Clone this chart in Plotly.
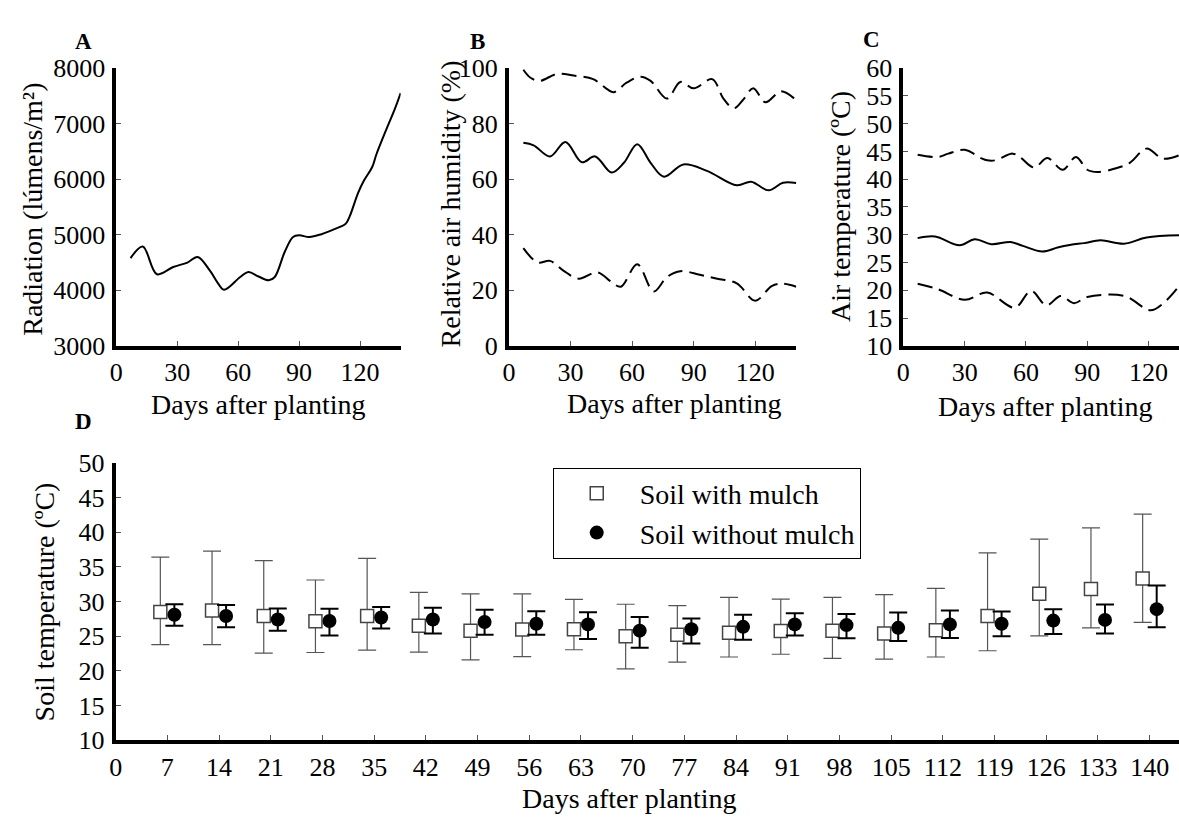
import plotly.graph_objects as go

# ---------------- data ----------------
# A: radiation
rad_days = [7, 13, 20, 28, 35, 40, 46, 50, 53, 61, 65, 70, 75, 78, 83, 87, 90, 95, 101, 108, 113, 115, 119, 122, 126, 128, 133, 137, 140]
rad_vals = [4580, 4790, 4290, 4420, 4500, 4600, 4360, 4130, 4010, 4240, 4330, 4250, 4180, 4240, 4700, 4960, 4990, 4960, 5010, 5110, 5200, 5340, 5750, 5980, 6220, 6440, 6900, 7250, 7550]

# B: relative air humidity
rh_max_days = [7, 10.5, 15, 23.5, 31.5, 41, 48, 51, 57.5, 64, 69, 77, 83.5, 90, 99, 104.5, 109.5, 114, 119, 125, 132.5, 140]
rh_max_vals = [99.4, 96.5, 95.4, 97.9, 97.3, 96.0, 92.3, 91.3, 94.8, 96.9, 95.4, 89.0, 95.0, 92.7, 96.0, 89.0, 85.5, 88.5, 92.7, 87.7, 91.6, 88.4]
rh_mean_days = [7, 12, 20, 27.5, 35.5, 42, 50, 56, 62.5, 69, 75.5, 85, 96.5, 111, 118, 126.5, 133.5, 140]
rh_mean_vals = [73.1, 72.2, 68.2, 73.4, 66.1, 68.2, 62.4, 65.9, 72.6, 65.9, 60.9, 65.3, 63.0, 57.8, 59.1, 56.0, 58.7, 58.6]
rh_min_days = [7, 14, 20, 26.5, 34, 43, 50, 54.5, 62.5, 70.5, 77, 83.5, 93, 101.5, 111, 120, 128, 133, 140]
rh_min_vals = [35.2, 30.0, 30.6, 27.1, 24.2, 26.5, 23.0, 21.3, 29.4, 19.6, 24.8, 26.9, 25.6, 24.2, 22.5, 16.3, 21.5, 22.4, 21.3]

# C: air temperature
t_max_days = [7, 17, 22, 30, 38, 41, 45, 53.5, 57, 64, 70.5, 78, 84.5, 90, 95, 104.5, 111, 119, 127, 135]
t_max_vals = [44.4, 44.0, 44.6, 45.3, 43.8, 43.4, 43.4, 44.6, 44.0, 42.1, 43.8, 41.7, 44.0, 41.7, 41.3, 42.0, 43.0, 45.5, 43.7, 44.3]
t_mean_days = [7, 15.5, 27.5, 35, 43, 52.5, 58.5, 68, 75.5, 82, 88.5, 96.5, 108, 119, 135]
t_mean_vals = [29.4, 29.7, 28.1, 29.2, 28.3, 28.7, 28.0, 27.0, 27.7, 28.2, 28.5, 29.0, 28.4, 29.5, 29.9]
t_min_days = [7, 17, 30, 41, 54.5, 62.5, 70, 77, 83.5, 90, 108, 121, 127, 135]
t_min_vals = [21.2, 20.2, 18.3, 19.6, 16.9, 19.9, 17.3, 19.0, 17.7, 18.8, 19.0, 16.4, 17.6, 20.8]

# D: soil temperature (mean, upper and lower whisker ends)
soil_days = [7, 14, 21, 28, 35, 42, 49, 56, 63, 70, 77, 84, 91, 98, 105, 112, 119, 126, 133, 140]
mulch = [28.5, 28.7, 27.9, 27.15, 27.9, 26.5, 25.8, 25.95, 26.0, 25.0, 25.2, 25.5, 25.75, 25.8, 25.4, 25.85, 27.9, 31.1, 31.8, 33.3]
mulch_hi = [36.4, 37.25, 35.9, 33.1, 36.2, 31.3, 31.1, 31.1, 30.3, 29.6, 29.4, 30.6, 30.35, 30.6, 31.0, 31.9, 37.0, 39.0, 40.6, 42.6]
mulch_lo = [23.8, 23.8, 22.55, 22.65, 23.0, 22.7, 21.6, 22.05, 23.05, 20.3, 21.25, 22.0, 22.4, 21.8, 21.7, 22.0, 22.9, 25.05, 26.2, 27.0]
nomulch = [28.1, 27.9, 27.4, 27.2, 27.7, 27.4, 27.05, 26.8, 26.7, 25.8, 26.0, 26.35, 26.7, 26.6, 26.2, 26.7, 26.8, 27.25, 27.35, 28.9]
nomulch_hi = [29.6, 29.5, 29.0, 28.95, 29.2, 29.1, 28.8, 28.6, 28.45, 27.75, 27.55, 28.1, 28.3, 28.2, 28.4, 28.7, 28.55, 28.9, 29.55, 32.3]
nomulch_lo = [26.5, 26.3, 25.8, 25.1, 26.1, 25.4, 25.2, 25.2, 24.6, 23.35, 23.95, 24.5, 25.1, 24.7, 24.3, 24.75, 25.0, 25.3, 25.4, 26.3]

x_ticks_top = [0, 30, 60, 90, 120]
x_ticks_soil = list(range(0, 141, 7))

# ---------------- figure ----------------
W, H = 1179, 827
FONT = "Liberation Serif"


def px(x):
    return x / W


def py(y):
    return 1 - y / H


fig = go.Figure()

solid = dict(color="black", width=2, shape="spline", smoothing=1.0)
dashed = dict(color="black", width=2, shape="spline", smoothing=1.0, dash="15px,7px")

fig.add_trace(go.Scatter(x=rad_days, y=rad_vals, mode="lines", line=solid, xaxis="x", yaxis="y", showlegend=False))

fig.add_trace(go.Scatter(x=rh_max_days, y=rh_max_vals, mode="lines", line=dashed, xaxis="x2", yaxis="y2", showlegend=False))
fig.add_trace(go.Scatter(x=rh_mean_days, y=rh_mean_vals, mode="lines", line=solid, xaxis="x2", yaxis="y2", showlegend=False))
fig.add_trace(go.Scatter(x=rh_min_days, y=rh_min_vals, mode="lines", line=dashed, xaxis="x2", yaxis="y2", showlegend=False))

fig.add_trace(go.Scatter(x=t_max_days, y=t_max_vals, mode="lines", line=dashed, xaxis="x3", yaxis="y3", showlegend=False))
fig.add_trace(go.Scatter(x=t_mean_days, y=t_mean_vals, mode="lines", line=solid, xaxis="x3", yaxis="y3", showlegend=False))
fig.add_trace(go.Scatter(x=t_min_days, y=t_min_vals, mode="lines", line=dashed, xaxis="x3", yaxis="y3", showlegend=False))

off = 0.95
fig.add_trace(go.Scatter(
    x=[d - off for d in soil_days], y=mulch, mode="markers", name="Soil with mulch",
    marker=dict(symbol="square", size=13, color="white", line=dict(color="#444444", width=1.5)),
    error_y=dict(type="data", symmetric=False,
                 array=[h - m for h, m in zip(mulch_hi, mulch)],
                 arrayminus=[m - l for m, l in zip(mulch, mulch_lo)],
                 color="#555555", thickness=1.2, width=9),
    xaxis="x4", yaxis="y4"))
fig.add_trace(go.Scatter(
    x=[d + off for d in soil_days], y=nomulch, mode="markers", name="Soil without mulch",
    marker=dict(symbol="circle", size=14, color="black"),
    error_y=dict(type="data", symmetric=False,
                 array=[h - m for h, m in zip(nomulch_hi, nomulch)],
                 arrayminus=[m - l for m, l in zip(nomulch, nomulch_lo)],
                 color="black", thickness=2, width=9),
    xaxis="x4", yaxis="y4"))

axis_common = dict(showline=True, linewidth=4, linecolor="black", showgrid=False, zeroline=False,
                   ticks="inside", ticklen=5, tickwidth=1, tickcolor="#555555",
                   tickfont=dict(family=FONT, size=26, color="black"),
                   fixedrange=True)
xa = dict(axis_common, ticklabelstandoff=0)
ya = dict(axis_common, ticklabelstandoff=2)

yA = [py(344), py(56)]

fig.update_layout(
    width=W, height=H, margin=dict(l=0, r=0, t=0, b=0),
    paper_bgcolor="white", plot_bgcolor="white",
    font=dict(family=FONT, size=26, color="black"),
    xaxis=dict(xa, domain=[px(110), px(396)], range=[0, 140], tickvals=x_ticks_top, anchor="y"),
    yaxis=dict(ya, domain=yA, range=[3000, 8000], tickvals=[3000, 4000, 5000, 6000, 7000, 8000], anchor="x"),
    xaxis2=dict(xa, domain=[px(505), px(794)], range=[0, 140], tickvals=x_ticks_top, anchor="y2"),
    yaxis2=dict(ya, domain=yA, range=[0, 100], tickvals=[0, 20, 40, 60, 80, 100], anchor="x2"),
    xaxis3=dict(xa, domain=[px(901.7), 1.0], range=[0, 134.9], tickvals=x_ticks_top, anchor="y3"),
    yaxis3=dict(ya, domain=yA, range=[10, 60], tickvals=list(range(10, 61, 5)), anchor="x3"),
    xaxis4=dict(xa, domain=[px(109.3), 1.0], range=[0, 143.97], tickvals=x_ticks_soil, anchor="y4"),
    yaxis4=dict(ya, domain=[py(752.7), py(465)], range=[10, 50], tickvals=list(range(10, 51, 5)), anchor="x4"),
    legend=dict(x=px(549), y=py(470), xanchor="left", yanchor="top",
                bordercolor="black", borderwidth=1, bgcolor="white",
                font=dict(family=FONT, size=28, color="black"), itemwidth=76),
)

ann = []


def label(text, x, y, size=28, angle=0, bold=False):
    t = "<b>%s</b>" % text if bold else text
    ann.append(dict(text=t, x=px(x), y=py(y), xref="paper", yref="paper", showarrow=False,
                    xanchor="center", yanchor="middle", textangle=angle,
                    font=dict(family=FONT, size=size, color="black")))


label("Days after planting", 253.5, 405)
label("Days after planting", 671.5, 404)
label("Days after planting", 1044.5, 407)
label("Days after planting", 626.5, 813)
label("Radiation (lúmens/m²)", 26, 202, angle=-90)
label("Relative air humidity (%)", 446, 197, angle=-90)
label("Air temperature (ºC)", 839, 200, angle=-90)
label("Soil temperature (ºC)", 38, 609, angle=-90)
label("A", 77, 28, size=23, bold=True)
label("B", 473, 28, size=23, bold=True)
label("C", 870, 26, size=23, bold=True)
label("D", 77, 422, size=23, bold=True)

fig.update_layout(annotations=ann)

fig.write_html("out.html", config={"displayModeBar": False},
               post_script="document.body.style.margin='0px';document.body.style.overflow='hidden';")
